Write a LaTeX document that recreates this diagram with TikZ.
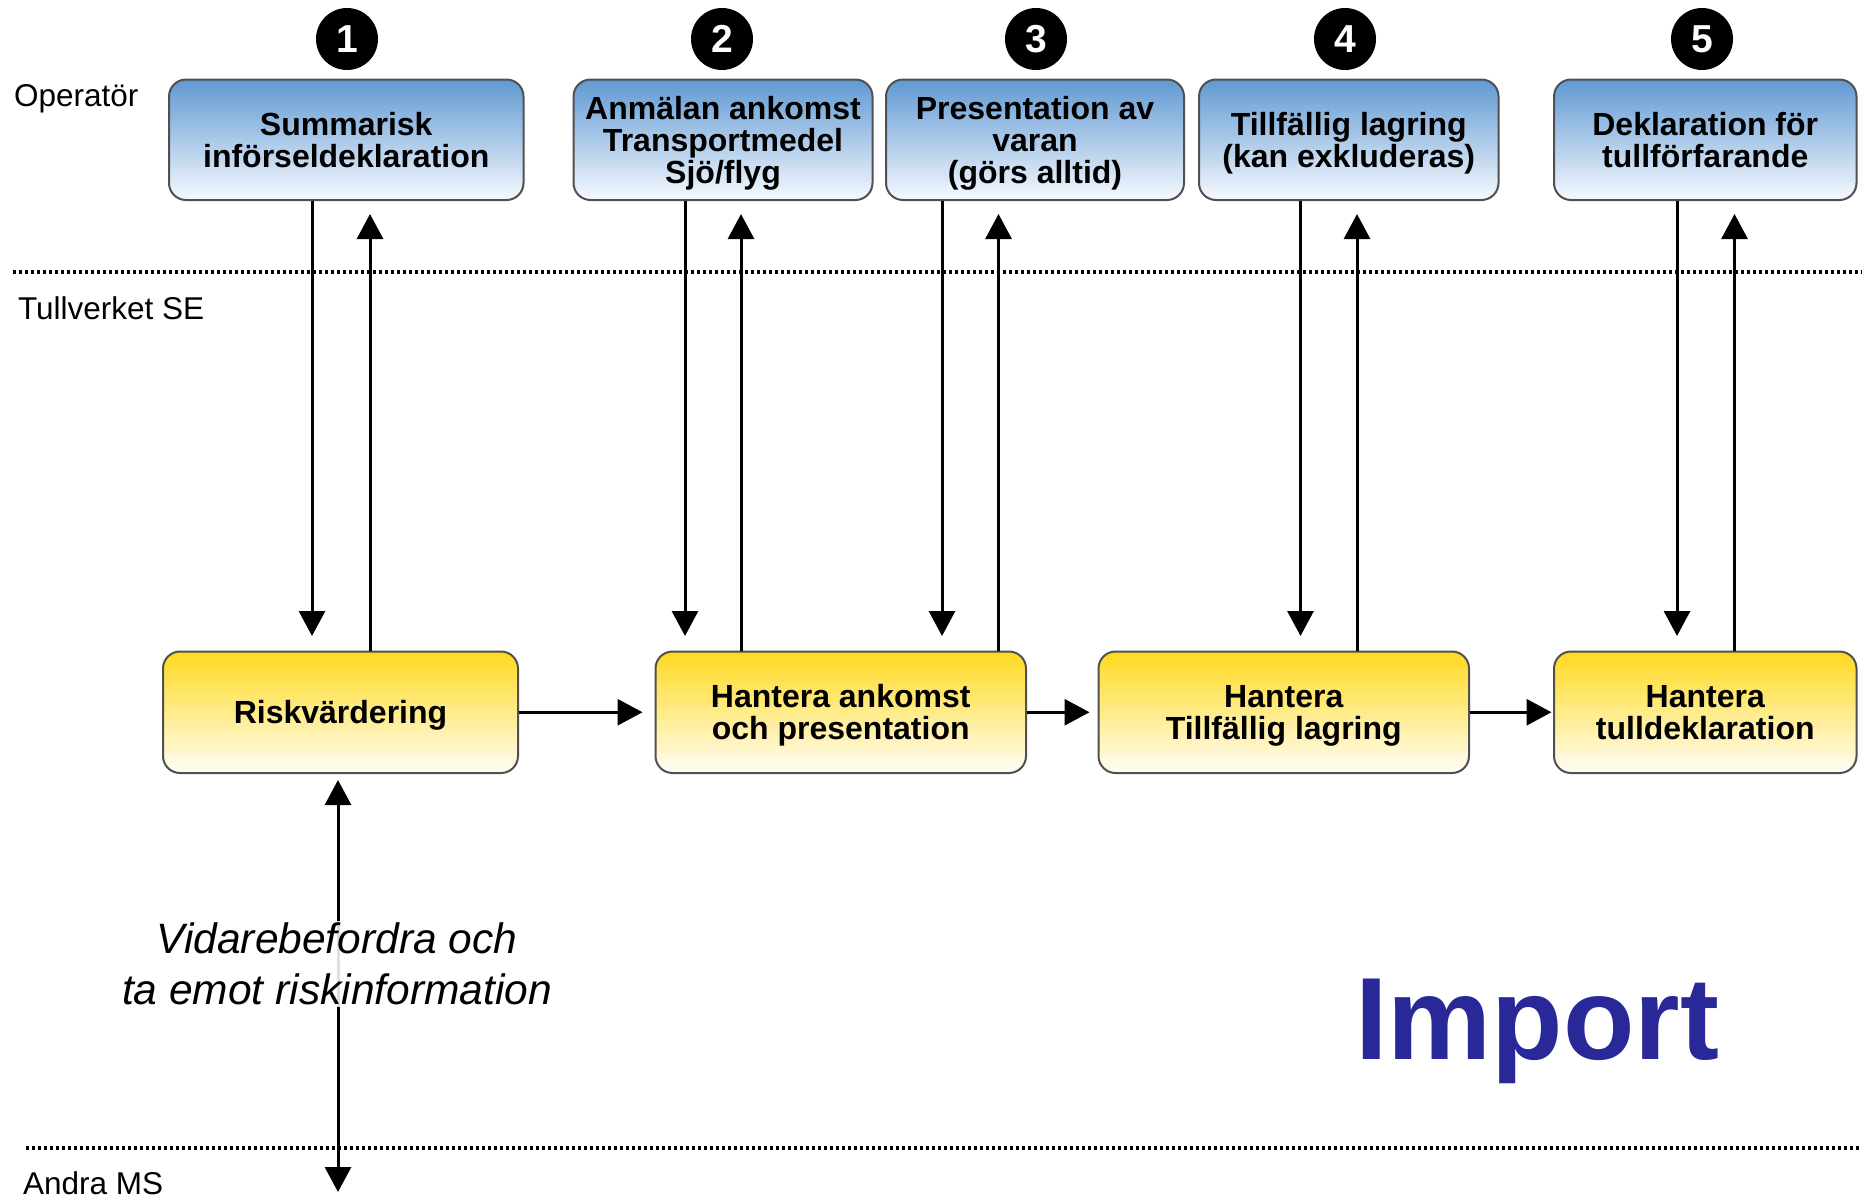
\documentclass[tikz,border=0pt]{standalone}
\usepackage{fontspec}
\setmainfont{Liberation Sans}
\usetikzlibrary{arrows.meta}
\definecolor{bluetop}{RGB}{96,153,210}
\definecolor{bluebot}{RGB}{246,249,255}
\definecolor{yeltop}{RGB}{255,217,30}
\definecolor{yelbot}{RGB}{255,253,246}
\definecolor{boxline}{RGB}{80,80,80}
\definecolor{importblue}{RGB}{40,40,152}
\tikzset{
  box/.style={draw=boxline, line width=2pt, rounded corners=17pt, align=center,
    inner sep=0pt, text depth=0pt, font=\bfseries\fontsize{32}{32}\selectfont},
  bluebox/.style={box, top color=bluetop, bottom color=bluebot, minimum height=120.5pt},
  yelbox/.style={box, top color=yeltop, bottom color=yelbot, minimum height=121.5pt},
  numcirc/.style={circle, fill=black, minimum size=62pt, inner sep=0pt,
    text=white, font=\bfseries\fontsize{39}{39}\selectfont},
  arr/.style={line width=3pt, -{Triangle[length=25pt,width=26pt]}},
  darr/.style={line width=3pt, {Triangle[length=25pt,width=26pt]}-{Triangle[length=25pt,width=26pt]}},
  sep/.style={line width=3.5pt, dash pattern=on 3pt off 3pt},
  lane/.style={anchor=base west, font=\fontsize{31.5}{31.5}\selectfont},
}
\begin{document}
\begin{tikzpicture}[x=1pt,y=-1pt]
\useasboundingbox (0,0) rectangle (1862,1197);
% separators
\coordinate (s1a) at (13,272); \coordinate (s1b) at (1862,272);
\coordinate (s2a) at (26,1148); \coordinate (s2b) at (1862,1148);
\draw[sep] (s1a) -- (s1b);
\draw[sep] (s2a) -- (s2b);
% lane labels
\node[lane] (lop) at (10.5,106) {Operatör};
\node[lane] (ltv) at (14.5,319) {Tullverket SE};
\node[lane] (lms) at (19.5,1194) {Andra MS};
% number circles
\node[numcirc] (c1) at (347,39) {1};
\node[numcirc] (c2) at (722,39) {2};
\node[numcirc] (c3) at (1036,39) {3};
\node[numcirc] (c4) at (1345,39) {4};
\node[numcirc] (c5) at (1702,39) {5};
% operator boxes
\node[bluebox, minimum width=354.5pt] (b1) at (346.25,139.75) {Summarisk\\införseldeklaration};
\node[bluebox, minimum width=299pt] (b2) at (723,139.75) {Anmälan ankomst\\Transportmedel\\Sjö/flyg};
\node[bluebox, minimum width=298pt] (b3) at (1035,139.75) {Presentation av\\varan\\(görs alltid)};
\node[bluebox, minimum width=299.5pt] (b4) at (1348.75,139.75) {Tillfällig lagring\\(kan exkluderas)};
\node[bluebox, minimum width=302.5pt] (b5) at (1705.25,139.75) {Deklaration för\\tullförfarande};
% Tullverket boxes
\node[yelbox, minimum width=355pt] (ya) at (340.5,712.25) {Riskvärdering};
\node[yelbox, minimum width=370.5pt] (yb) at (840.75,712.25) {Hantera ankomst\\och presentation};
\node[yelbox, minimum width=370.5pt] (yc) at (1283.75,712.25) {Hantera\\Tillfällig lagring};
\node[yelbox, minimum width=302.5pt] (yd) at (1705.25,712.25) {Hantera\\tulldeklaration};
% vertical arrows
\coordinate (d1) at (312,636);  \coordinate (u1) at (370,214);
\coordinate (d2) at (685,636);  \coordinate (u2) at (741,214);
\coordinate (d3) at (942,636);  \coordinate (u3) at (998.5,214);
\coordinate (d4) at (1300.5,636); \coordinate (u4) at (1357,214);
\coordinate (d5) at (1677,636); \coordinate (u5) at (1734.5,214);
\draw[arr] (b1.south -| d1) -- (d1);
\draw[arr] (ya.north -| u1) -- (u1);
\draw[arr] (b2.south -| d2) -- (d2);
\draw[arr] (yb.north -| u2) -- (u2);
\draw[arr] (b3.south -| d3) -- (d3);
\draw[arr] (yb.north -| u3) -- (u3);
\draw[arr] (b4.south -| d4) -- (d4);
\draw[arr] (yc.north -| u4) -- (u4);
\draw[arr] (b5.south -| d5) -- (d5);
\draw[arr] (yd.north -| u5) -- (u5);
% horizontal arrows
\draw[arr] (ya.east) -- ([xshift=-12pt]yb.west);
\draw[arr] (yb.east) -- ([xshift=-8pt]yc.west);
\draw[arr] (yc.east) -- ([xshift=-1.5pt]yd.west);
% exchange with other MS
\coordinate (mt) at (338,780);
\coordinate (mb) at (338,1192);
\draw[darr] (mt) -- (mb);
\node[align=center, fill=white, fill opacity=0.88, text opacity=1, inner sep=2pt,
  font=\itshape\fontsize{42.5}{51}\selectfont] (lbl) at (337,964)
  {Vidarebefordra och\\ta emot riskinformation};
% title
\node[anchor=base, text=importblue, font=\bfseries\fontsize{117}{117}\selectfont] (imp) at (1537,1059) {Import};
\end{tikzpicture}
\end{document}
